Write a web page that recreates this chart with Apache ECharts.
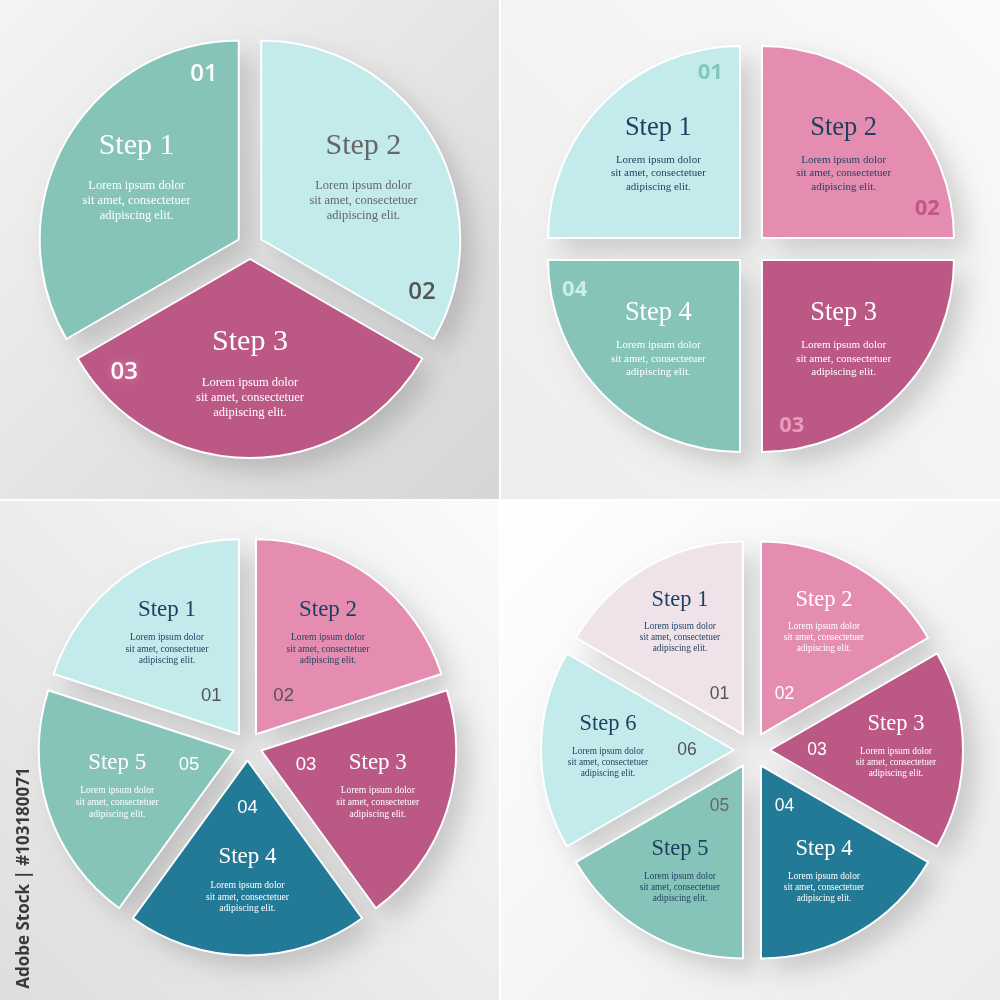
<!DOCTYPE html>
<html><head><meta charset="utf-8">
<script src="https://cdn.jsdelivr.net/npm/echarts@6/dist/echarts.min.js"></script>
<style>html,body{margin:0;padding:0;background:#fff}#c{width:1000px;height:1000px}</style>
</head><body><div id="c"></div>
<script>
// ---------- data ----------
const loremLines = ['Lorem ipsum dolor', 'sit amet, consectetuer', 'adipiscing elit.'];

const pie1Steps = ['Step 1', 'Step 2', 'Step 3'];
const pie1Values = [1, 1, 1];
const pie1Numbers = ['01', '02', '03'];

const pie2Steps = ['Step 1', 'Step 2', 'Step 3', 'Step 4'];
const pie2Values = [1, 1, 1, 1];
const pie2Numbers = ['01', '02', '03', '04'];

const pie3Steps = ['Step 1', 'Step 2', 'Step 3', 'Step 4', 'Step 5'];
const pie3Values = [1, 1, 1, 1, 1];
const pie3Numbers = ['01', '02', '03', '04', '05'];

const pie4Steps = ['Step 1', 'Step 2', 'Step 3', 'Step 4', 'Step 5', 'Step 6'];
const pie4Values = [1, 1, 1, 1, 1, 1];
const pie4Numbers = ['01', '02', '03', '04', '05', '06'];

const watermarkText = 'Adobe Stock | #103180071';

// ---------- styles ----------
const C = { teal: '#86c4b9', cyan: '#c4ebeb', rose: '#bc5886', pink: '#e58db0', blue: '#237a96', blush: '#efe3e9' };
const NAVY = '#1b3f5f';

const pies = [
  { steps: pie1Steps, values: pie1Values, numbers: pie1Numbers,
    colors: [C.teal, C.cyan, C.rose], textColors: ['#fff', '#666', '#fff'], numColors: ['#fff', '#555', '#fff'],
    numGlow: [null, null, '#e27fab'],
    center: [250, 246], r: 199, off: 13, start: 210, titleR: 256, titleShift: 24, numStart: 165, numR: 350,
    tSize: 30, tLh: 65, lSize: 12.5, lLh: 15, nSize: 24, nFont: 'Open Sans', nWeight: 600 },
  { steps: pie2Steps, values: pie2Values, numbers: pie2Numbers,
    colors: [C.cyan, C.pink, C.rose, C.teal], textColors: [NAVY, NAVY, '#fff', '#fff'], numColors: ['#82c8bb', '#c45585', '#e79cbe', '#c9eeec'],
    numGlow: [null, null, null, null],
    center: [751, 249], r: 192, off: 15.5, start: 180, titleR: 256, titleShift: 16, numStart: 148, numR: 356,
    tSize: 26.5, tLh: 50, lSize: 11, lLh: 13.5, nSize: 22, nFont: 'Open Sans', nWeight: 'bold' },
  { steps: pie3Steps, values: pie3Values, numbers: pie3Numbers,
    colors: [C.cyan, C.pink, C.rose, C.blue, C.teal], textColors: [NAVY, NAVY, '#fff', '#fff', '#fff'], numColors: ['#555', '#555', '#fff', '#fff', '#fff'],
    numGlow: [null, null, null, null, null],
    center: [247.5, 746], r: 195, off: 14.5, start: 162, titleR: 268, titleShift: 16, numStart: 162, numR: 117,
    tSize: 23, tLh: 44, lSize: 9.6, lLh: 11.7, nSize: 18.5, nFont: 'Liberation Sans', nWeight: 'normal' },
  { steps: pie4Steps, values: pie4Values, numbers: pie4Numbers,
    colors: [C.blush, C.pink, C.rose, C.blue, C.teal, C.cyan], textColors: [NAVY, '#fff', '#fff', '#fff', NAVY, NAVY], numColors: ['#555', '#fff', '#fff', '#fff', '#666', '#555'],
    numGlow: [null, null, null, null, null, null],
    center: [752, 750], r: 193, off: 18, start: 150, titleR: 282, titleShift: 18, numStart: 150, numR: 124,
    tSize: 22.5, tLh: 43, lSize: 9.3, lLh: 11, nSize: 17.5, nFont: 'Liberation Sans', nWeight: 'normal' }
];

const series = [];
pies.forEach(p => {
  const base = { type: 'pie', center: p.center, startAngle: p.start, clockwise: true, silent: true,
    animation: false, avoidLabelOverlap: false, emphasis: { disabled: true }, labelLine: { show: false } };
  const shadow = { borderWidth: 0, shadowBlur: 26, shadowOffsetX: 13, shadowOffsetY: 13, shadowColor: 'rgba(0,0,0,0.17)' };
  // shadow layer
  series.push(Object.assign({}, base, {
    z: 1, radius: [0, p.r], selectedMode: 'multiple', selectedOffset: p.off,
    label: { show: false },
    itemStyle: shadow,
    select: { itemStyle: shadow },
    data: p.steps.map((s, i) => ({ name: s, value: p.values[i], selected: true, itemStyle: { color: p.colors[i] } }))
  }));
  // colored slices
  series.push(Object.assign({}, base, {
    z: 2, radius: [0, p.r], selectedMode: 'multiple', selectedOffset: p.off,
    label: { show: false },
    itemStyle: { borderColor: '#ffffff', borderWidth: 2 },
    select: { itemStyle: { borderColor: '#ffffff', borderWidth: 2 } },
    data: p.steps.map((s, i) => ({ name: s, value: p.values[i], selected: true, itemStyle: { color: p.colors[i] } }))
  }));
  // titles + lorem
  series.push(Object.assign({}, base, {
    z: 5, radius: [0, p.titleR],
    itemStyle: { color: 'rgba(0,0,0,0)', borderWidth: 0 },
    label: { show: true, position: 'inside', align: 'center', padding: [0, 0, p.titleShift, 0],
      formatter: prm => '{t|' + prm.name + '}\n' + loremLines.map(l => '{l|' + l + '}').join('\n'),
      rich: {
        t: { fontFamily: 'Liberation Serif', fontSize: p.tSize, lineHeight: p.tLh },
        l: { fontFamily: 'Liberation Serif', fontSize: p.lSize, lineHeight: p.lLh }
      } },
    data: p.steps.map((s, i) => ({ name: s, value: p.values[i], label: { color: p.textColors[i] } }))
  }));
  // numbers
  series.push(Object.assign({}, base, {
    z: 5, radius: [0, p.numR], startAngle: p.numStart,
    itemStyle: { color: 'rgba(0,0,0,0)', borderWidth: 0 },
    label: { show: true, position: 'inside', formatter: prm => p.numbers[prm.dataIndex],
      fontFamily: p.nFont, fontSize: p.nSize, fontWeight: p.nWeight },
    data: p.steps.map((s, i) => {
      const lab = { color: p.numColors[i] };
      if (p.numGlow[i]) { lab.textShadowColor = p.numGlow[i]; lab.textShadowBlur = 6; }
      return { name: s, value: p.values[i], label: lab };
    })
  }));
});

const lin = (x, y, x2, y2, a, b) => ({ type: 'linear', x, y, x2, y2, colorStops: [{ offset: 0, color: a }, { offset: 1, color: b }] });

const option = {
  backgroundColor: '#ffffff',
  animation: false,
  graphic: [
    { type: 'rect', z: -10, silent: true, shape: { x: 0, y: 0, width: 499, height: 499 }, style: { fill: lin(0, 0, 1, 1, '#f4f4f4', '#d6d6d6') } },
    { type: 'rect', z: -10, silent: true, shape: { x: 501, y: 0, width: 499, height: 499 }, style: { fill: lin(1, 0, 0, 1, '#fafafa', '#ededed') } },
    { type: 'rect', z: -10, silent: true, shape: { x: 0, y: 501, width: 499, height: 499 }, style: { fill: lin(1, 0, 0, 1, '#fbfbfb', '#dedede') } },
    { type: 'rect', z: -10, silent: true, shape: { x: 501, y: 501, width: 499, height: 499 }, style: { fill: lin(0, 0, 1, 1, '#ffffff', '#ececec') } },
    { type: 'text', z: 100, silent: true, x: 24, y: 878, rotation: Math.PI / 2,
      style: { text: watermarkText, fill: '#3a3a3a', fontSize: 17, fontWeight: 'bold', fontFamily: 'Open Sans', align: 'center', verticalAlign: 'middle' } }
  ],
  series
};

const chart = echarts.init(document.getElementById('c'), null, { renderer: 'canvas' });
chart.setOption(option);
</script>
</body></html>
